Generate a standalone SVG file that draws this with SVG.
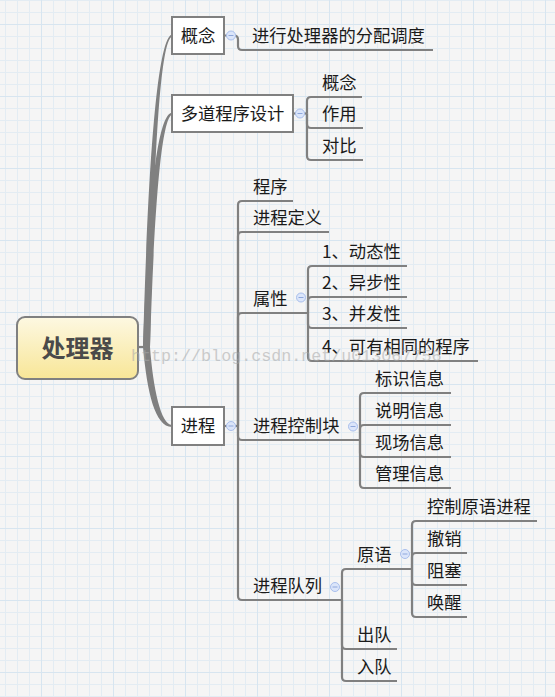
<svg xmlns="http://www.w3.org/2000/svg" width="555" height="697" viewBox="0 0 555 697">
<defs>
  <pattern id="minor" x="5" y="0" width="12" height="12" patternUnits="userSpaceOnUse">
    <path d="M0.5,0 V12 M0,0.5 H12" stroke="#e3ecf3" stroke-width="1" fill="none"/>
  </pattern>
  <pattern id="major" x="41" y="24" width="72" height="72" patternUnits="userSpaceOnUse">
    <path d="M0.5,0 V72 M0,0.5 H72" stroke="#d7e5f0" stroke-width="1" fill="none"/>
  </pattern>
  <linearGradient id="rootfill" x1="0" y1="0" x2="0" y2="1">
    <stop offset="0" stop-color="#fdf8e2"/>
    <stop offset="1" stop-color="#f8e697"/>
  </linearGradient>
  <g id="minus">
    <circle cx="0" cy="0" r="4.5" fill="#dbe5fa" stroke="#a9bfec" stroke-width="1"/>
    <path d="M-2.5,0 H2.5" stroke="#8fa8dc" stroke-width="1"/>
  </g>
</defs>
<style>
  .box{fill:#fff;stroke:#808080;stroke-width:2}
  .t{font-family:"Noto Sans CJK SC","Noto Sans",sans-serif;font-size:17.3px;fill:#1a1a1a}
  .c{fill:none;stroke:#808080;stroke-width:2.2}
  .trunk{fill:#808080}
</style>
<rect x="0" y="0" width="555" height="697" fill="#f5f5f5"/>
<rect x="0" y="0" width="555" height="697" fill="url(#minor)"/>
<rect x="0" y="0" width="555" height="697" fill="url(#major)"/>

<g id="connectors">
  <path class="trunk" d="M143,347 C147,200 155,39 172,34.5 L172,36.5 C158,42 153,200 150,347 Z"/>
  <path class="trunk" d="M143,347 C147,250 153,116 172,112.5 L172,114.5 C159,120 153,250 150,347 Z"/>
  <path class="trunk" d="M143,347 C147,392 155,427 172,427 L172,425 C161,425 153,388 150,347 Z"/>
  <path class="c" d="M138,347 L146,347"/>

  <path class="c" d="M224,35.5 L234,35.5 Q238,35.5 238,39.5 L238,46 Q238,50 242,50 L433,50"/>

  <path class="c" d="M293,113.5 L307,113.5"/>
  <path class="c" d="M307,113.5 L307,101 Q307,97 311,97 L362,97"/>
  <path class="c" d="M307,113.5 L307,124 Q307,128 311,128 L363,128"/>
  <path class="c" d="M307,113.5 L307,156 Q307,160 311,160 L363,160"/>

  <path class="c" d="M224,426 L238,426"/>
  <path class="c" d="M238,426 L238,205 Q238,201 242,201 L293,201"/>
  <path class="c" d="M238,426 L238,236 Q238,232 242,232 L329,232"/>
  <path class="c" d="M238,426 L238,317 Q238,313 242,313 L308,313"/>
  <path class="c" d="M238,426 L238,436 Q238,440 242,440 L360,440"/>
  <path class="c" d="M238,426 L238,596 Q238,600 242,600 L342,600"/>

  <path class="c" d="M308,313 L308,270 Q308,266 312,266 L407,266"/>
  <path class="c" d="M308,313 L308,301 Q308,297 312,297 L407,297"/>
  <path class="c" d="M308,313 L308,324 Q308,328 312,328 L407,328"/>
  <path class="c" d="M308,313 L308,357 Q308,361 312,361 L478,361"/>

  <path class="c" d="M360,440 L360,397 Q360,393 364,393 L451,393"/>
  <path class="c" d="M360,440 L360,429 Q360,425 364,425 L451,425"/>
  <path class="c" d="M360,440 L360,453 Q360,457 364,457 L451,457"/>
  <path class="c" d="M360,440 L360,484 Q360,488 364,488 L451,488"/>

  <path class="c" d="M342,600 L342,573 Q342,569 346,569 L412,569"/>
  <path class="c" d="M342,600 L342,645 Q342,649 346,649 L397,649"/>
  <path class="c" d="M342,600 L342,677 Q342,681 346,681 L397,681"/>

  <path class="c" d="M412,569 L412,525 Q412,521 416,521 L537,521"/>
  <path class="c" d="M412,569 L412,557 Q412,553 416,553 L467,553"/>
  <path class="c" d="M412,569 L412,581 Q412,585 416,585 L467,585"/>
  <path class="c" d="M412,569 L412,613 Q412,617 416,617 L467,617"/>
</g>

<g id="root">
  <rect x="17" y="317" width="121" height="62" rx="8" fill="url(#rootfill)" stroke="#808080" stroke-width="2"/>
  <text x="77.5" y="357" text-anchor="middle" font-family="Noto Sans CJK SC, sans-serif" font-size="24" font-weight="bold" fill="#4a4a4a">处理器</text>
</g>

<g id="n-concept">
  <rect class="box" x="172" y="17" width="52" height="37"/>
  <text class="t" x="198" y="41.5" text-anchor="middle">概念</text>
  <use href="#minus" x="231" y="35.5"/>
</g>
<g id="n-concept-1"><text class="t" x="252" y="41.5">进行处理器的分配调度</text></g>

<g id="n-multiprog">
  <rect class="box" x="172" y="95" width="121" height="37"/>
  <text class="t" x="232.5" y="119.5" text-anchor="middle">多道程序设计</text>
  <use href="#minus" x="300" y="113.5"/>
</g>
<g id="n-mp-1"><text class="t" x="322" y="88.5">概念</text></g>
<g id="n-mp-2"><text class="t" x="322" y="119.5">作用</text></g>
<g id="n-mp-3"><text class="t" x="322" y="151.5">对比</text></g>

<g id="n-process">
  <rect class="box" x="172" y="407" width="52" height="38"/>
  <text class="t" x="198" y="432" text-anchor="middle">进程</text>
  <use href="#minus" x="231" y="426"/>
</g>
<g id="n-program"><text class="t" x="253" y="192.5">程序</text></g>
<g id="n-def"><text class="t" x="253" y="223.5">进程定义</text></g>
<g id="n-attr">
  <text class="t" x="253" y="304.5">属性</text>
  <use href="#minus" x="301" y="297.5"/>
</g>
<g id="n-attr-1"><text class="t" x="322" y="257.5">1、动态性</text></g>
<g id="n-attr-2"><text class="t" x="322" y="288.5">2、异步性</text></g>
<g id="n-attr-3"><text class="t" x="322" y="319.5">3、并发性</text></g>
<g id="n-attr-4"><text class="t" x="322" y="352.5">4、可有相同的程序</text></g>

<g id="n-pcb">
  <text class="t" x="253" y="431.5">进程控制块</text>
  <use href="#minus" x="353" y="426.5"/>
</g>
<g id="n-pcb-1"><text class="t" x="375" y="384.5">标识信息</text></g>
<g id="n-pcb-2"><text class="t" x="375" y="416.5">说明信息</text></g>
<g id="n-pcb-3"><text class="t" x="375" y="448.5">现场信息</text></g>
<g id="n-pcb-4"><text class="t" x="375" y="479.5">管理信息</text></g>

<g id="n-queue">
  <text class="t" x="253" y="591.5">进程队列</text>
  <use href="#minus" x="335" y="587"/>
</g>
<g id="n-prim">
  <text class="t" x="357" y="560.5">原语</text>
  <use href="#minus" x="405" y="554"/>
</g>
<g id="n-prim-1"><text class="t" x="427" y="512.5">控制原语进程</text></g>
<g id="n-prim-2"><text class="t" x="427" y="544.5">撤销</text></g>
<g id="n-prim-3"><text class="t" x="427" y="576.5">阻塞</text></g>
<g id="n-prim-4"><text class="t" x="427" y="608.5">唤醒</text></g>
<g id="n-dequeue"><text class="t" x="357" y="640.5">出队</text></g>
<g id="n-enqueue"><text class="t" x="357" y="672.5">入队</text></g>

<text x="131" y="361" font-family="Liberation Mono, monospace" font-size="16.7" fill="#a8a8a8" opacity="0.55">http://blog.csdn.net/u013067756</text>
</svg>
